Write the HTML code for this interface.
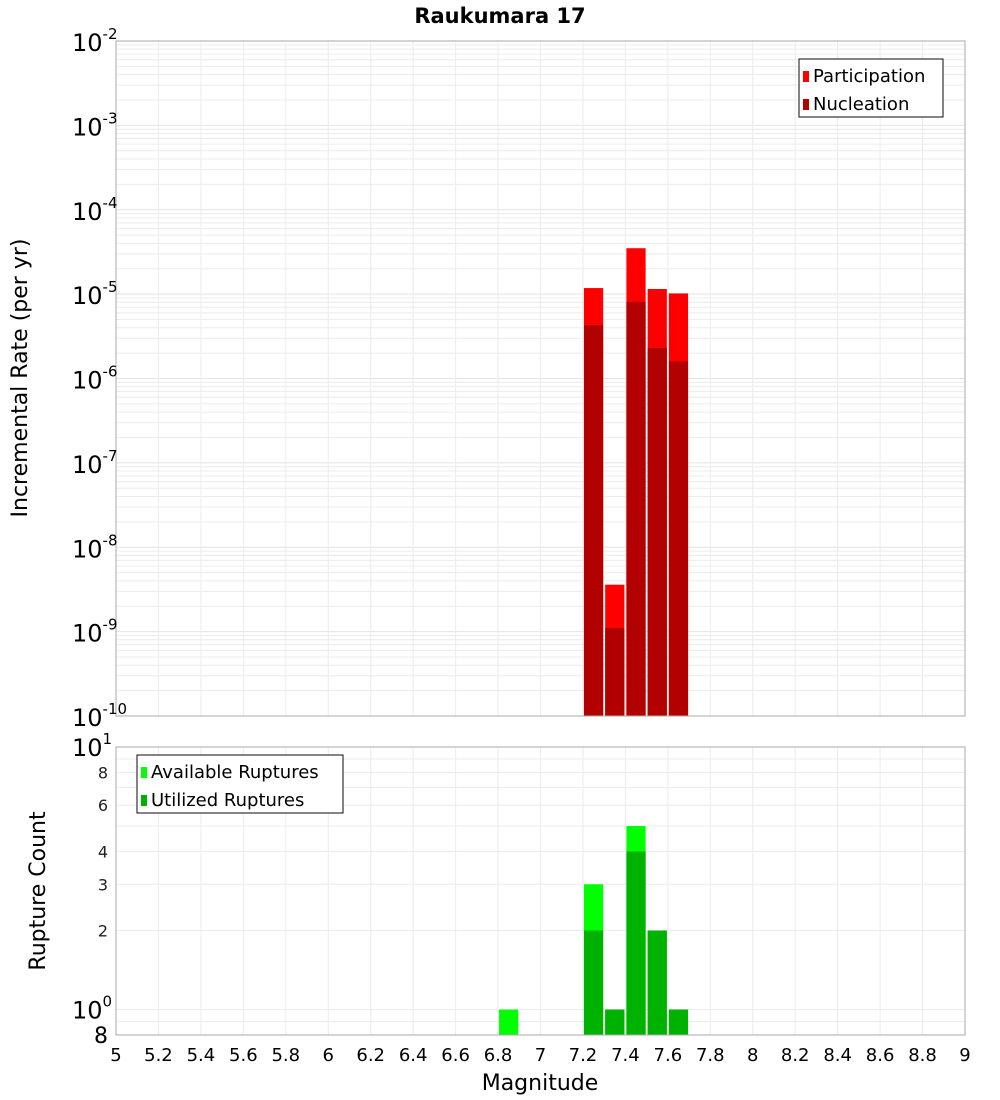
<!DOCTYPE html>
<html><head><meta charset="utf-8"><style>
body{margin:0;background:#fff;}
svg{display:block;font-family:"DejaVu Sans","Liberation Sans",sans-serif;}
</style></head><body>
<svg id="chart" width="1000" height="1100" xmlns="http://www.w3.org/2000/svg">
<text x="500" y="23" text-anchor="middle" font-size="21" font-weight="bold">Raukumara 17</text>
<text transform="translate(27,378) rotate(-90)" text-anchor="middle" font-size="22">Incremental Rate (per yr)</text>
<text transform="translate(45,891) rotate(-90)" text-anchor="middle" font-size="22">Rupture Count</text>
<text x="540" y="1090" text-anchor="middle" font-size="22">Magnitude</text>
<g id="topG"></g><g id="botG"></g><g id="xtG"></g>
</svg>
<script>
const mags=[7.25,7.35,7.45,7.55,7.65];
const participation=[1.18e-5,3.6e-9,3.5e-5,1.15e-5,1.02e-5];
const nucleation=[4.3e-6,1.1e-9,8.1e-6,2.3e-6,1.6e-6];
const countMags=[6.85,7.25,7.35,7.45,7.55,7.65];
const available=[1,3,1,5,2,1];
const utilized=[0,2,1,4,2,1];
const xTicks=["5","5.2","5.4","5.6","5.8","6","6.2","6.4","6.6","6.8","7","7.2","7.4","7.6","7.8","8","8.2","8.4","8.6","8.8","9"];
const topExps=[-2,-3,-4,-5,-6,-7,-8,-9,-10];
const botTicks=[2,3,4,6,8];

const NS="http://www.w3.org/2000/svg";
const L=116,R=965,T1=41,B1=716,T2=747,B2=1035;
const x=m=>L+(m-5)/4*(R-L);
const y1=v=>T1+(-2-Math.log10(v))/8*(B1-T1);
const lmin=Math.log10(0.8),lmax=1;
const y2=v=>B2-(Math.log10(v)-lmin)/(lmax-lmin)*(B2-T2);
function mk(tag,attrs,parent,text){const e=document.createElementNS(NS,tag);for(const k in attrs)e.setAttribute(k,attrs[k]);if(text!==undefined)e.textContent=text;parent.appendChild(e);return e;}
const gTop=document.getElementById('topG'),gBot=document.getElementById('botG'),gXt=document.getElementById('xtG');

for(let e=-10;e<-2;e++)for(let k=1;k<10;k++){const yy=y1(k*Math.pow(10,e));const g=mk('line',{x1:L,x2:R,y1:yy,y2:yy,stroke:k==1?'#e4e4e4':'#ececec','stroke-width':1},gTop);

}
for(let i=1;i<20;i++){const xx=x(5+i*0.2);const g=mk('line',{x1:xx,x2:xx,y1:T1,y2:B1,stroke:'#ececec'},gTop);


const g2=mk('line',{x1:xx,x2:xx,y1:T2,y2:B2,stroke:'#ececec'},gBot);

}
[0.8,0.9,1,2,3,4,5,6,7,8,9,10].forEach(v=>{const yy=y2(v);const g=mk('line',{x1:L,x2:R,y1:yy,y2:yy,stroke:'#ececec'},gBot);

});

const w=(R-L)/40;
mags.forEach((m,i)=>{
 const b=mk('rect',{x:x(m)-w/2+1,y:y1(participation[i]),width:w-2,height:B1-y1(participation[i]),fill:'#ff0000'},gTop);
 
 
 const n=mk('rect',{x:x(m)-w/2+1,y:y1(nucleation[i]),width:w-2,height:B1-y1(nucleation[i]),fill:'#b20000'},gTop);
 
 
});
countMags.forEach((m,i)=>{
 const b=mk('rect',{x:x(m)-w/2+1,y:y2(available[i]),width:w-2,height:B2-y2(available[i]),fill:'#00ff00'},gBot);
 
 
 if(utilized[i]>0){const n=mk('rect',{x:x(m)-w/2+1,y:y2(utilized[i]),width:w-2,height:B2-y2(utilized[i]),fill:'#00b200'},gBot);
 
 }
});
const f1=mk('rect',{x:L,y:T1,width:R-L,height:B1-T1,fill:'none',stroke:'#aaa'},gTop);


const f2=mk('rect',{x:L,y:T2,width:R-L,height:B2-T2,fill:'none',stroke:'#aaa'},gBot);



topExps.forEach(e=>{const yy=y1(Math.pow(10,e));const t=mk('text',{x:72,y:yy+10,'font-size':24},gTop);


mk('tspan',{},t,'10');mk('tspan',{dy:-12,'font-size':15},t,String(e));});
botTicks.forEach(v=>{const t=mk('text',{x:108,y:y2(v)+6,'text-anchor':'end','font-size':16,fill:'#222'},gBot,String(v));

});
[[10,'1'],[1,'0']].forEach(([v,e])=>{const t=mk('text',{x:72,y:y2(v)+9,'font-size':24},gBot);


mk('tspan',{},t,'10');mk('tspan',{dy:-12,'font-size':15},t,e);});
const t8=mk('text',{x:108,y:y2(0.8)+8,'text-anchor':'end','font-size':22},gBot,'8');


xTicks.forEach(s=>{const t=mk('text',{x:x(parseFloat(s)),y:1061,'text-anchor':'middle','font-size':18},gXt,s);

});

function legend(parent,x0,y0,wd,items,name){const g=mk('g',{},parent);


mk('rect',{x:x0,y:y0,width:wd,height:58,fill:'#fff',stroke:'#333','stroke-width':1.2},g);
items.forEach(([c,s],i)=>{mk('rect',{x:x0+4,y:y0+12+i*28,width:6,height:11,fill:c},g);mk('text',{x:x0+14,y:y0+23+i*28,'font-size':18},g,s);});}
legend(gTop,799,59,144,[['#ff0000','Participation'],['#b20000','Nucleation']],'top-legend');
legend(gBot,137,755,206,[['#00ff00','Available Ruptures'],['#00b200','Utilized Ruptures']],'bottom-legend');
</script>
</body></html>
